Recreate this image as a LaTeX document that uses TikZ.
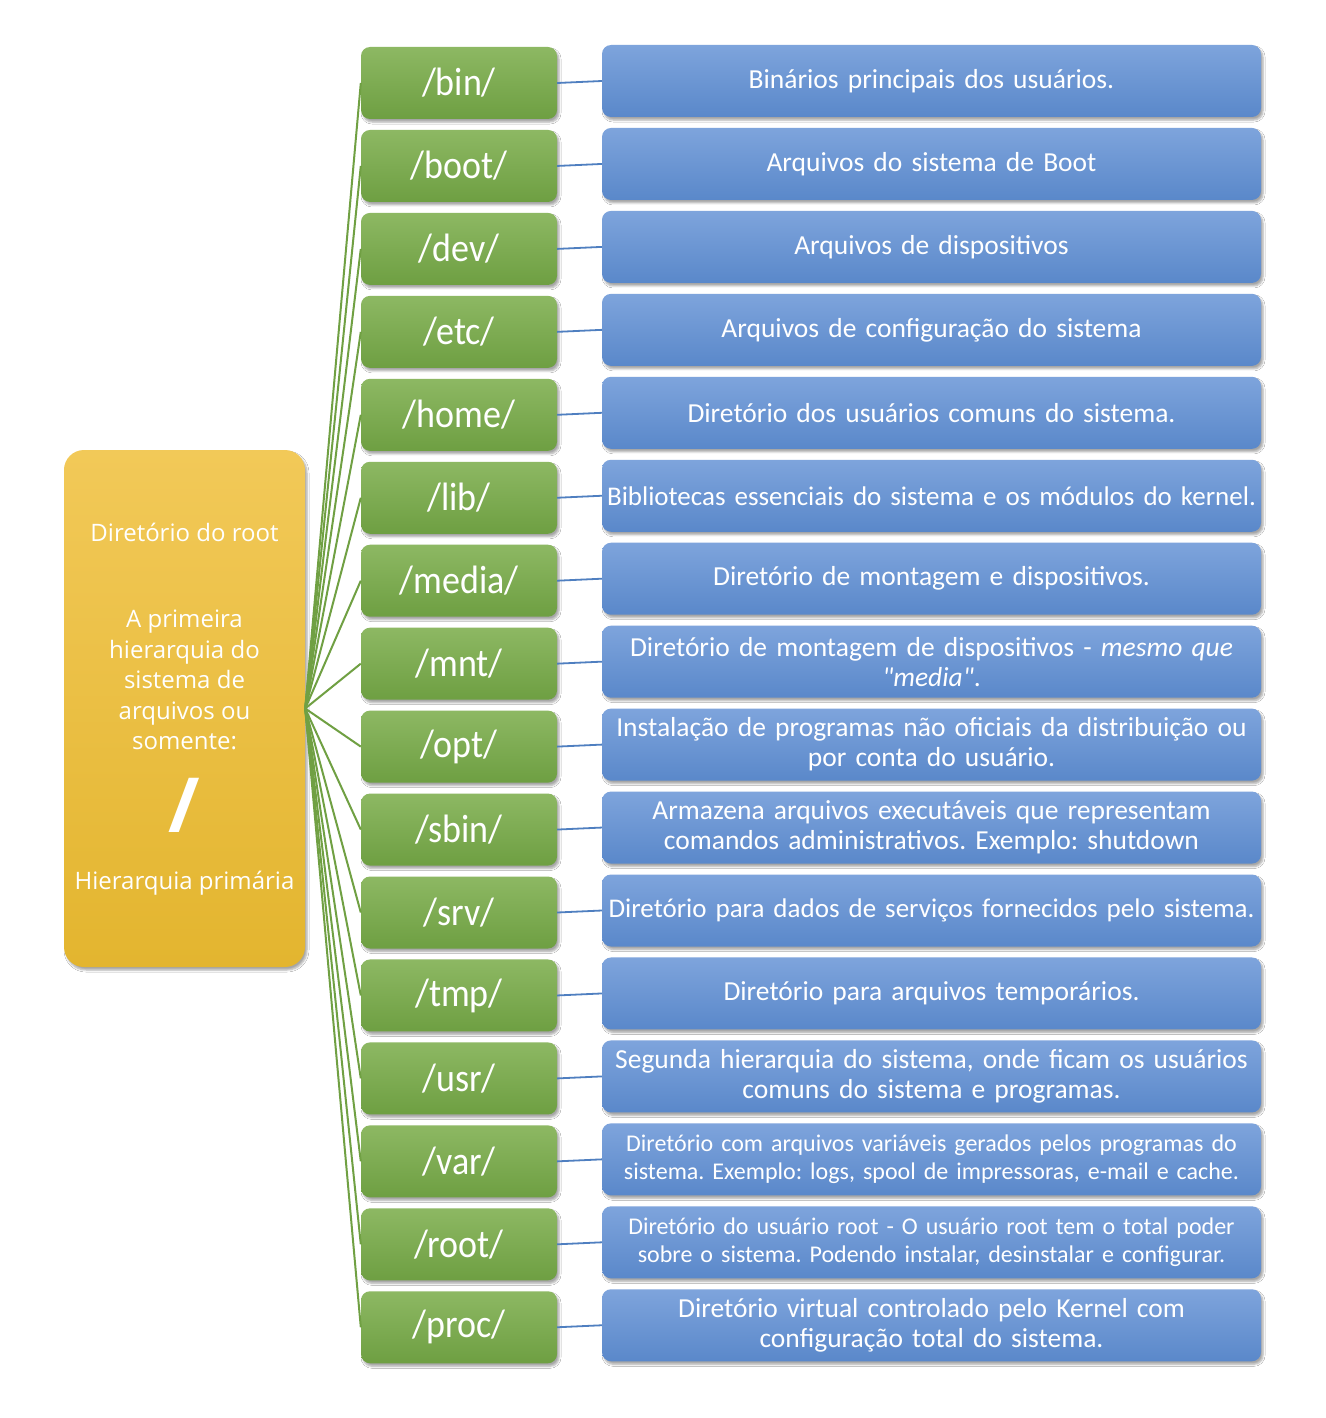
\documentclass[tikz,border=0pt]{standalone}
\usepackage{fontspec}
\usepackage{graphicx}
\setmainfont{Carlito}[Ligatures=TeXOff]
\newfontfamily\rootfont{Open Sans}
\usetikzlibrary{shadows,shadows.blur}
\frenchspacing
\definecolor{gtop}{HTML}{8DB863}
\definecolor{gbot}{HTML}{6E9F42}
\definecolor{btop}{HTML}{7EA4DC}
\definecolor{bbot}{HTML}{5A88CA}
\definecolor{ytop}{HTML}{F2C958}
\definecolor{ybot}{HTML}{E3B52F}
\definecolor{gline}{HTML}{70A043}
\definecolor{bline}{HTML}{4F7FC0}
\newcommand\tallTxt[1]{\scalebox{1}[1.1]{#1}}
\tikzset{
  boxshadow/.style={blur shadow={shadow blur steps=5,shadow xshift=2pt,shadow yshift=-3pt,shadow opacity=35,shadow blur radius=2pt}},
  dirbox/.style={boxshadow,rounded corners=9pt,minimum width=196pt,minimum height=72pt,
    top color=gtop,bottom color=gbot,draw=none,text=white,inner sep=0pt,
    font=\fontsize{36}{40}\selectfont},
  descbox/.style={boxshadow,rounded corners=9pt,minimum width=659pt,minimum height=72pt,
    top color=btop,bottom color=bbot,draw=none,text=white,inner sep=0pt,align=center,
    text width=655pt},
  rootbox/.style={boxshadow,rounded corners=20pt,minimum width=241pt,minimum height=517pt,
    top color=ytop,bottom color=ybot,draw=none,inner sep=0pt},
  roottext/.style={text=white,align=center,inner sep=0pt,font=\rootfont\fontsize{24}{30.5}\selectfont},
  rootline/.style={draw=gline,line width=2pt},
  descline/.style={draw=bline,line width=1.8pt},
}
\begin{document}
\begin{tikzpicture}[x=1pt,y=-1pt]
\useasboundingbox[fill=white] (0,0) rectangle (1325,1418);
\node[rootbox] (root) at (184.5,708.5) {};
\node[roottext] (rt1) at (184.5,532) {Diretório do root};
\node[roottext] (rt2) at (184.5,680) {A primeira\\hierarquia do\\sistema de\\arquivos ou\\somente:};
\node[roottext,font=\rootfont\bfseries\fontsize{76}{76}\selectfont] (rt3) at (184,805) {/};
\node[roottext] (rt4) at (184.5,883) {Hierarquia primária};
\foreach \i/\nm/\fs/\ls/\desc in {
 0/bin/27.5/30/{Binários principais dos usuários.},
 1/boot/27.5/30/{Arquivos do sistema de Boot},
 2/dev/27.5/30/{Arquivos de dispositivos},
 3/etc/27.5/30/{Arquivos de configuração do sistema},
 4/home/27.5/30/{Diretório dos usuários comuns do sistema.},
 5/lib/27/30/{Bibliotecas essenciais do sistema e os módulos do kernel.},
 6/media/27.5/30/{Diretório de montagem e dispositivos.},
 7/mnt/27.5/30/{Diretório de montagem de dispositivos - \textit{mesmo que}\\\textit{"media"}.},
 8/opt/27.5/30/{Instalação de programas não oficiais da distribuição ou\\por conta do usuário.},
 9/sbin/27.5/30/{Armazena arquivos executáveis que representam\\comandos administrativos. Exemplo: shutdown},
 10/srv/27/30/{Diretório para dados de serviços fornecidos pelo sistema.},
 11/tmp/27.5/30/{Diretório para arquivos temporários.},
 12/usr/27.5/30/{Segunda hierarquia do sistema, onde ficam os usuários\\comuns do sistema e programas.},
 13/var/24/28/{Diretório com arquivos variáveis gerados pelos programas do\\sistema. Exemplo: logs, spool de impressoras, e-mail e cache.},
 14/root/24/28/{Diretório do usuário root - O usuário root tem o total poder\\sobre o sistema. Podendo instalar, desinstalar e configurar.},
 15/proc/27.5/30/{Diretório virtual controlado pelo Kernel com\\configuração total do sistema.}
}{
  \node[dirbox] (g\i) at (459,83+82.95*\i) {\tallTxt{/\nm/}};
  \node[descbox,font=\fontsize{\fs}{\ls}\selectfont] (b\i) at (931.5,81+82.95*\i) {\desc};
  \draw[rootline] (root.east) -- (g\i.west);
  \draw[descline] (g\i.east) -- (b\i.west);
}
\end{tikzpicture}
\end{document}
